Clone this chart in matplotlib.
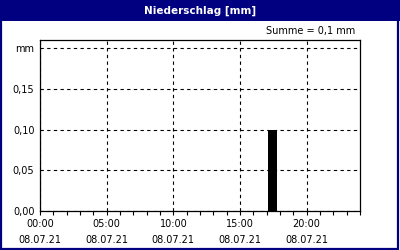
import matplotlib
matplotlib.use("Agg")
import matplotlib.pyplot as plt
from matplotlib.patches import Rectangle

NAVY = "#000080"

# precipitation per interval, hours since 00:00 on 08.07.21
bar_hours = [17.45]
bar_mm = [0.10]
bar_width = 0.7
total_mm = "0,1"

major_hours = [0, 5, 10, 15, 20]
time_labels = ["00:00", "05:00", "10:00", "15:00", "20:00"]
date_label = "08.07.21"
y_ticks = [0.0, 0.05, 0.10, 0.15, 0.20]
y_labels = ["0,00", "0,05", "0,10", "0,15", "mm"]

plt.rcParams["font.family"] = ["DejaVu Sans"]

fig = plt.figure(figsize=(4, 2.5), dpi=100, facecolor="white")

# navy title bar + thin navy frame around the whole panel
fig.patches.append(Rectangle((0, 1 - 21 / 250), 1, 21 / 250, transform=fig.transFigure,
                             facecolor=NAVY, edgecolor="none", zorder=0))
fig.patches.append(Rectangle((0.5 / 400, 1.5 / 250), 397.5 / 400, 247 / 250,
                             transform=fig.transFigure, facecolor="none",
                             edgecolor=NAVY, linewidth=1.6, zorder=1))
fig.text(0.5, 1 - 10.5 / 250, "Niederschlag [mm]", color="white", fontsize=7.5,
         fontweight="bold", ha="center", va="center")

ax = fig.add_axes([40 / 400, 39 / 250, 320 / 400, 171 / 250])
ax.bar(bar_hours, bar_mm, width=bar_width, color="black", zorder=3)

ax.set_xlim(0, 24)
ax.set_ylim(0, 0.21)
ax.set_xticks(major_hours)
ax.set_xticklabels(["%s\n%s" % (t, date_label) for t in time_labels],
                   linespacing=1.75)
ax.set_xticks(range(0, 25), minor=True)
ax.set_yticks(y_ticks)
ax.set_yticklabels(y_labels)

ax.tick_params(axis="x", which="both", direction="out", length=3, width=0.8,
               labelsize=7, pad=3)
ax.tick_params(axis="y", length=0, labelsize=7, pad=4)
ax.grid(True, color="black", linestyle=(0, (3, 3)), linewidth=0.8)
for s in ax.spines.values():
    s.set_color("black")
    s.set_linewidth(0.9)

ax.text(1 - 5 / 320, 1 + 9 / 171, "Summe = %s mm" % total_mm, transform=ax.transAxes,
        ha="right", va="center", fontsize=7)

fig.savefig("out.png", dpi=100, facecolor="white")
